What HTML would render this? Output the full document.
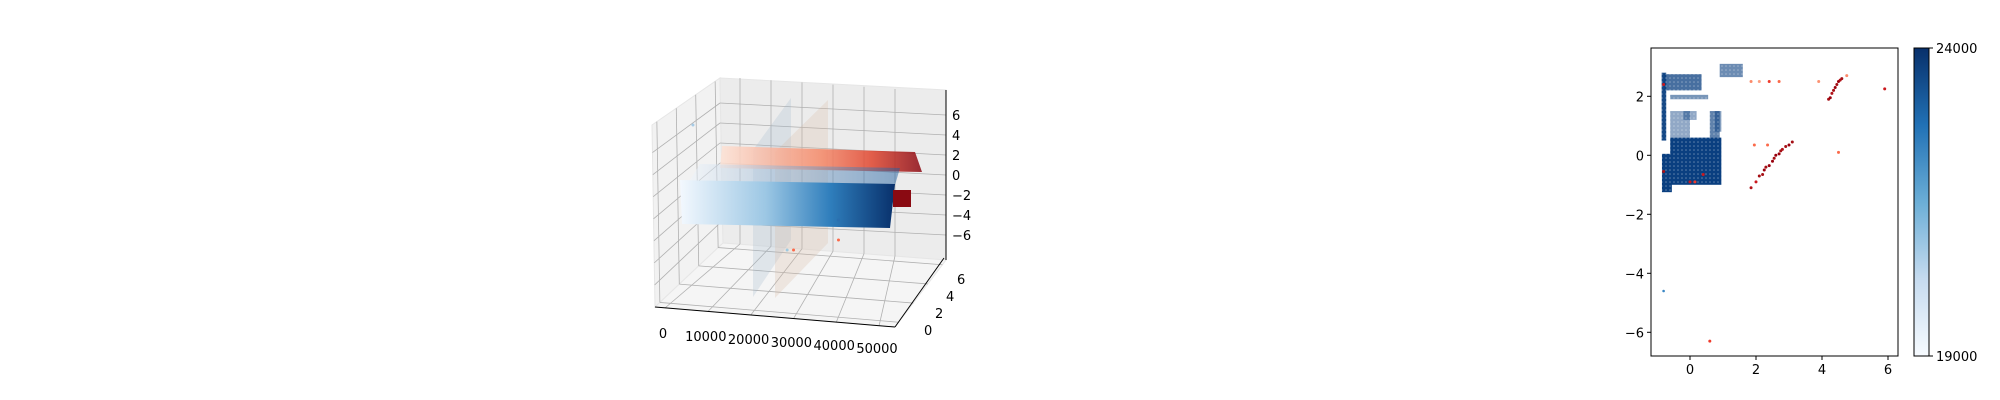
<!DOCTYPE html>
<html><head><meta charset="utf-8">
<style>
html,body{margin:0;padding:0;background:#fff;}
svg{display:block;font-family:"DejaVu Sans","Liberation Sans",sans-serif;}
</style></head>
<body>
<svg id="fig" width="2000" height="400" viewBox="0 0 2000 400" xmlns="http://www.w3.org/2000/svg">
<defs>
<linearGradient id="gBlue" x1="0" x2="1" y1="0" y2="0">
<stop offset="0" stop-color="#f3f8fe"/><stop offset="0.4" stop-color="#9cc7e4"/><stop offset="0.7" stop-color="#2f7ebc"/><stop offset="1" stop-color="#08306b"/></linearGradient>
<linearGradient id="gRed" x1="0" x2="1" y1="0" y2="0">
<stop offset="0" stop-color="#fde3d6"/><stop offset="0.5" stop-color="#f58a6a"/><stop offset="0.75" stop-color="#e0452e"/><stop offset="1" stop-color="#8a0812"/></linearGradient>
<linearGradient id="gBlueLight" x1="0" x2="1" y1="0" y2="0">
<stop offset="0" stop-color="#eef5fc"/><stop offset="1" stop-color="#1f5fa0"/></linearGradient>
<linearGradient id="gCbar" x1="0" x2="0" y1="1" y2="0">
<stop offset="0" stop-color="#f7fbff"/><stop offset="0.25" stop-color="#c6dbef"/><stop offset="0.5" stop-color="#6baed6"/><stop offset="0.75" stop-color="#2171b5"/><stop offset="1" stop-color="#08306b"/></linearGradient>
<pattern id="dots" width="4" height="4" patternUnits="userSpaceOnUse"><rect width="4" height="4" fill="#0a3f80"/><circle cx="2" cy="2" r="0.8" fill="#fff" fill-opacity="0.35"/></pattern>
</defs>
<g id="ax3d"></g>
<g id="ax2d"></g>
<g id="cbar"></g>
</svg>
<script>
const NS="http://www.w3.org/2000/svg";
function mk(parent,tag,attrs,text){const e=document.createElementNS(NS,tag);for(const k in attrs)e.setAttribute(k,attrs[k]);if(text!==undefined)e.textContent=text;parent.appendChild(e);return e;}

/* ---------- 3D axes (approximate projection) ---------- */
const zTicks=[6,4,2,0,-2,-4,-6];
const xTicks3=[0,10000,20000,30000,40000,50000];
const yTicks3=[0,2,4,6];
const outl3X=[7000,29000,30500,41000,41000];
const outl3Z=[5,-7.5,-7.5,-6.5,-4.5];
const outl3C=["#a6cbe6","#9ecae1","#fb6a4a","#fb6a4a","#2b6fb0"];

const g3=document.getElementById('ax3d');
let p;
p=mk(g3,'polygon',{points:"652,125 720,78 723,243 655,307",fill:"#f2f2f2",stroke:"#e6e6e6"});

p=mk(g3,'polygon',{points:"720,78 946,90 946,260 723,243",fill:"#ececec",stroke:"#e6e6e6"});

p=mk(g3,'polygon',{points:"723,243 946,260 895,327 655,307",fill:"#f5f5f5",stroke:"#e6e6e6"});

function zR(z){return 175-(z*10);}
const grid=mk(g3,'g',{stroke:"#b0b0b0","stroke-width":"0.8",fill:"none"});

zTicks.forEach(z=>{
  const yr=zR(z), yl=yr-12;
  const frac=(yl-78)/(243-78);
  mk(grid,'line',{x1:720,y1:yl,x2:946,y2:yr});
  mk(grid,'line',{x1:720,y1:yl,x2:652+frac*3,y2:yl+47+frac*17});
});
function x3(v){return 663+v/50000*214;}
xTicks3.forEach(v=>{
  const t=v/50000;const xb=740+t*155, yb=244+t*12;
  mk(grid,'line',{x1:xb,y1:yb,x2:xb,y2:78+t*11});
  mk(grid,'line',{x1:xb,y1:yb,x2:x3(v)+2,y2:308+t*18});
});
yTicks3.forEach(v=>{
  const t=(v+0.5)/7;
  const xa=723-t*68, ya=243+t*64;
  mk(grid,'line',{x1:xa,y1:ya,x2:946-t*51,y2:260+t*67});
  mk(grid,'line',{x1:xa,y1:ya,x2:720-t*68,y2:78+t*47});
});
const axl=mk(g3,'g',{stroke:"#000","stroke-width":"1",fill:"none"});
mk(axl,'line',{x1:655,y1:307,x2:895,y2:327});
mk(axl,'line',{x1:895,y1:327,x2:944,y2:258});
mk(axl,'line',{x1:946,y1:90,x2:946,y2:260});
p=mk(g3,'polygon',{points:"753,150 791,98 791,240 753,297",fill:"#9fb6cc","fill-opacity":"0.25"});

p=mk(g3,'polygon',{points:"775,152 828,100 828,243 775,298",fill:"#d8b9a0","fill-opacity":"0.25"});

p=mk(g3,'polygon',{points:"722,146 915,152 922,172 720,168",fill:"url(#gRed)",opacity:"0.85"});

p=mk(g3,'polygon',{points:"700,164 900,168 895,185 690,180",fill:"url(#gBlueLight)",opacity:"0.5"});

p=mk(g3,'polygon',{points:"680,180 895,184 890,228 682,224",fill:"url(#gBlue)"});

p=mk(g3,'rect',{x:893,y:190,width:18,height:17,fill:"#8a0a12"});

outl3X.forEach((v,i)=>{
  const c=mk(g3,'circle',{cx:x3(v),cy:zR(outl3Z[i]),r:1.5,fill:outl3C[i]});
  
  
});
const tl=mk(g3,'g',{"font-size":"13",fill:"#000"});
zTicks.forEach(z=>{const t=mk(tl,'text',{x:952,y:zR(z)+5},String(z).replace('-','\u2212'));
  });
xTicks3.forEach((v,i)=>{const t=mk(tl,'text',{x:x3(v),y:338+i*3,"text-anchor":"middle"},String(v));
  });
yTicks3.forEach((v,i)=>{const t=mk(tl,'text',{x:924+i*11,y:335-i*17},String(v));
  });

/* ---------- 2D scatter ---------- */
const xTicks2=[0,2,4,6];
const yTicks2=[2,0,-2,-4,-6];
const blueBlockX0=[-0.6,-0.85,-0.86,-0.8,-0.6,-0.6,0.6,0.75,0.9,-0.2,0.3];
const blueBlockX1=[0.95,-0.55,-0.72,0.35,0.55,0.0,0.9,0.95,1.6,0.2,0.55];
const blueBlockY0=[-1.0,-1.25,0.5,2.2,1.9,0.6,0.5,0.8,2.65,1.2,-0.95];
const blueBlockY1=[0.6,0.05,2.8,2.75,2.05,1.5,1.5,1.5,3.1,1.5,-0.7];
const blueBlockA=[1.0,1.0,0.95,0.75,0.55,0.45,0.65,0.5,0.6,0.45,0.8];
const redX=[1.85,2.0,2.1,2.2,2.25,2.3,2.4,2.5,2.55,2.6,2.7,2.75,2.8,2.9,3.0,3.1,4.2,4.25,4.3,4.35,4.4,4.45,4.5,4.55,4.6,1.85,2.1,2.4,2.7,3.9,4.75,5.9,1.95,2.35,4.5,0.6,-0.8,-0.8,0.0,0.15,0.4];
const redY=[-1.1,-0.9,-0.7,-0.65,-0.5,-0.4,-0.35,-0.2,-0.1,0.0,0.05,0.15,0.2,0.3,0.35,0.45,1.9,1.95,2.1,2.2,2.3,2.4,2.5,2.55,2.6,2.5,2.5,2.5,2.5,2.5,2.7,2.25,0.35,0.35,0.1,-6.3,2.4,-0.55,-0.9,-0.9,-0.65];
const redC=["#b11218","#cb181d","#a50f15","#a50f15","#99000d","#a50f15","#99000d","#99000d","#a50f15","#99000d","#99000d","#a50f15","#b11218","#a50f15","#99000d","#a50f15","#a50f15","#99000d","#b11218","#a50f15","#99000d","#a50f15","#99000d","#b11218","#a50f15","#fb8a6a","#fca082","#ef3b2c","#fb6a4a","#fc9272","#fc8a6a","#cb181d","#fb6a4a","#fb6a4a","#fb6a4a","#ef3b2c","#cb181d","#a50f15","#cb181d","#ef3b2c","#cb181d"];
const blueOutX=[-0.8];
const blueOutY=[-4.6];

const g2=document.getElementById('ax2d');
const L=1651,R=1898,T=48,B=356;
function sx(v){return 1690+v*33.0;}
function sy(v){return 155.3-v*29.5;}
const cp=mk(g2,'clipPath',{id:"clip2"});mk(cp,'rect',{x:L,y:T,width:R-L,height:B-T});
const pts=mk(g2,'g',{"clip-path":"url(#clip2)"});
blueBlockX0.forEach((x0,i)=>{
  const r=mk(pts,'rect',{x:sx(x0),y:sy(blueBlockY1[i]),width:sx(blueBlockX1[i])-sx(x0),height:sy(blueBlockY0[i])-sy(blueBlockY1[i]),fill:"url(#dots)","fill-opacity":blueBlockA[i]});
  
  
});
blueOutX.forEach((x,i)=>{
  const c=mk(pts,'circle',{cx:sx(x),cy:sy(blueOutY[i]),r:1.3,fill:"#3a87c4"});
  
  
});
redX.forEach((x,i)=>{
  const c=mk(pts,'circle',{cx:sx(x),cy:sy(redY[i]),r:1.5,fill:redC[i]});
  
  
});
const fr=mk(g2,'rect',{x:L,y:T,width:R-L,height:B-T,fill:"none",stroke:"#000","stroke-width":"1"});

const tk=mk(g2,'g',{"font-size":"13",fill:"#000"});
xTicks2.forEach(v=>{
  mk(tk,'line',{x1:sx(v),y1:B,x2:sx(v),y2:B+4,stroke:"#000"});
  const t=mk(tk,'text',{x:sx(v),y:B+18,"text-anchor":"middle"},String(v));
  
});
yTicks2.forEach(v=>{
  mk(tk,'line',{x1:L-4,y1:sy(v),x2:L,y2:sy(v),stroke:"#000"});
  const t=mk(tk,'text',{x:L-7,y:sy(v)+5,"text-anchor":"end"},String(v).replace('-','\u2212'));
  
});

/* ---------- colorbar ---------- */
const cbTicks=[24000,19000];
const gc=document.getElementById('cbar');
const cb=mk(gc,'rect',{x:1914,y:48,width:15,height:308,fill:"url(#gCbar)",stroke:"#000","stroke-width":"1"});

cbTicks.forEach((v,i)=>{
  const y=i===0?48:356;
  mk(gc,'line',{x1:1929,y1:y,x2:1933,y2:y,stroke:"#000"});
  const t=mk(gc,'text',{x:1936,y:y+5,"font-size":"13"},String(v));
  
});
</script>
</body></html>
